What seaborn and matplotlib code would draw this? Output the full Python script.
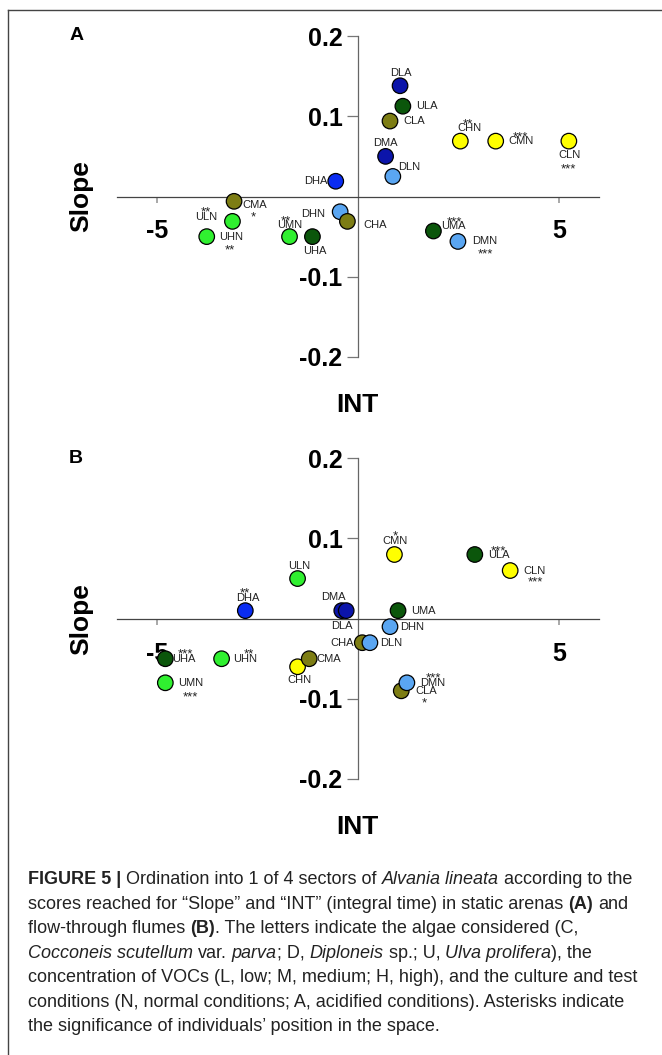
import numpy as np
import pandas as pd
import seaborn as sns
import matplotlib.pyplot as plt
import matplotlib.transforms as mtransforms
from matplotlib.lines import Line2D
from matplotlib import font_manager

plt.rcParams['axes.unicode_minus'] = False
plt.rcParams['font.family'] = ['Liberation Sans', 'DejaVu Sans']

# ---- data: panel A (static arenas) ----
a_labels = ['DLA', 'ULA', 'CLA', 'DMA', 'DLN', 'DHA', 'CHN', 'CMN', 'CLN',
            'UMA', 'DMN', 'DHN', 'CHA', 'UHA', 'UMN', 'ULN', 'UHN', 'CMA']
a_int = [1.05, 1.12, 0.80, 0.69, 0.87, -0.55, 2.55, 3.43, 5.25,
         1.88, 2.49, -0.44, -0.26, -1.13, -1.70, -3.76, -3.12, -3.08]
a_slope = [0.138, 0.1125, 0.094, 0.050, 0.025, 0.019, 0.069, 0.069, 0.069,
           -0.043, -0.056, -0.019, -0.031, -0.050, -0.050, -0.050, -0.031, -0.006]
a_stars = ['', '', '', '', '', '', '**', '***', '***',
           '***', '***', '', '', '', '**', '**', '**', '*']

# ---- data: panel B (flow-through flumes) ----
b_labels = ['ULN', 'DHA', 'DMA', 'DLA', 'UHA', 'UHN', 'UMN', 'CHN', 'CMA',
            'CHA', 'DLN', 'DHN', 'UMA', 'CMN', 'ULA', 'CLN', 'CLA', 'DMN']
b_int = [-1.50, -2.80, -0.40, -0.29, -4.79, -3.39, -4.79, -1.50, -1.21,
         0.11, 0.30, 0.80, 1.00, 0.91, 2.91, 3.79, 1.08, 1.22]
b_slope = [0.050, 0.010, 0.010, 0.010, -0.050, -0.050, -0.080, -0.060, -0.050,
           -0.030, -0.030, -0.010, 0.010, 0.080, 0.080, 0.060, -0.090, -0.080]
b_stars = ['', '**', '', '', '***', '**', '***', '', '',
           '', '', '', '', '*', '***', '***', '*', '***']

yticks = [-0.2, -0.1, 0.1, 0.2]
ytick_labels = ['-0.2', '-0.1', '0.1', '0.2']
xticks = [-5, 5]
xtick_labels = ['-5', '5']

palette = {'CA': '#7d7d14', 'CN': '#ffff00', 'DA': '#0b14aa', 'DHA': '#0a2cf2',
           'DN': '#5aa6f2', 'UA': '#0b560b', 'UN': '#30f030'}

# label layout: (dx px, dy px downwards, ha), star offsets (dx, dy)
lab_a = {'DLA': (1, -13, 'center'), 'ULA': (13, 0, 'left'), 'CLA': (13, 0, 'left'),
         'DMA': (0, -13, 'center'), 'DLN': (5, -9, 'left'), 'DHA': (-8, 0, 'right'),
         'CHN': (9, -13, 'center'), 'CMN': (13, 0, 'left'), 'CLN': (1, 14, 'center'),
         'UMA': (8, -5, 'left'), 'DMN': (14, 0, 'left'), 'DHN': (-15, 2, 'right'),
         'CHA': (16, 4, 'left'), 'UHA': (2, 14, 'center'), 'UMN': (0, -12, 'center'),
         'ULN': (-1, -20, 'center'), 'UHN': (-1, 16, 'center'), 'CMA': (8, 4, 'left')}
star_a = {'CHN': (8, -21), 'CMN': (25, -8), 'CLN': (0, 24), 'UMA': (21, -13),
          'DMN': (27, 9), 'UMN': (-4, -19), 'ULN': (-1, -28), 'UHN': (-3, 25),
          'CMA': (19, 12)}
lab_b = {'ULN': (2, -13, 'center'), 'DHA': (2, -13, 'center'), 'DMA': (-8, -14, 'center'),
         'DLA': (-4, 15, 'center'), 'UHA': (7, 0, 'left'), 'UHN': (12, 0, 'left'),
         'UMN': (13, 0, 'left'), 'CHN': (2, 13, 'center'), 'CMA': (7, 0, 'left'),
         'CHA': (-8, 0, 'right'), 'DLN': (10, 0, 'left'), 'DHN': (10, 0, 'left'),
         'UMA': (13, 0, 'left'), 'CMN': (1, -14, 'center'), 'ULA': (13, 0, 'left'),
         'CLN': (13, 0, 'left'), 'CLA': (14, 0, 'left'), 'DMN': (13, 0, 'left')}
star_b = {'DHA': (0, -21), 'UHA': (20, -8), 'UHN': (27, -8), 'UMN': (25, 11),
          'CMN': (1, -22), 'ULA': (24, -7), 'CLN': (25, 8), 'DMN': (27, -8),
          'CLA': (23, 9)}

W, H = 662, 1055
fig = plt.figure(figsize=(W / 100, H / 100), dpi=100)


def group_of(lab):
    if lab == 'DHA':
        return 'DHA'
    return lab[0] + lab[2]


def draw_panel(rect, labels, xs, ys, stars, lab_pos, star_pos, letter, letter_xy):
    ax = fig.add_axes(rect)
    df = pd.DataFrame({'INT': xs, 'Slope': ys, 'lab': labels})
    df['group'] = df['lab'].map(group_of)
    sns.scatterplot(data=df, x='INT', y='Slope', hue='group', palette=palette,
                    s=125, edgecolor='black', linewidth=0.9, legend=False,
                    ax=ax, zorder=3)
    ax.set_xlim(-6, 6)
    ax.set_ylim(-0.2, 0.2)
    for s in ['right', 'top']:
        ax.spines[s].set_visible(False)
    ax.spines['left'].set_position(('data', 0))
    ax.spines['bottom'].set_position(('data', 0))
    ax.spines['left'].set_color('#666666')
    ax.spines['bottom'].set_color('#444444')
    ax.spines['left'].set_linewidth(0.9)
    ax.spines['bottom'].set_linewidth(0.9)
    ax.set_yticks(yticks)
    ax.set_yticklabels(ytick_labels)
    ax.set_xticks(xticks)
    ax.set_xticklabels(xtick_labels)
    ax.tick_params(axis='y', direction='out', length=8, width=0.9, color='#777777',
                   pad=3, labelsize=18)
    ax.tick_params(axis='x', direction='out', length=4.5, width=1.2, color='#999999',
                   pad=12, labelsize=18)
    for t in ax.get_xticklabels() + ax.get_yticklabels():
        t.set_fontweight('bold')
    ax.set_xlabel('INT', fontsize=19, fontweight='bold')
    ax.set_ylabel('Slope', fontsize=19, fontweight='bold')
    ax.xaxis.label.set_va('center')
    ax.yaxis.label.set_va('center')
    ax.xaxis.set_label_coords(0.5, -48 / (rect[3] * H))
    ax.yaxis.set_label_coords(-35 / (rect[2] * W), 0.5)
    for lab, x, y, st in zip(labels, xs, ys, stars):
        dx, dy, ha = lab_pos[lab]
        ax.annotate(lab, (x, y), xytext=(dx, -dy), textcoords='offset pixels',
                    ha=ha, va='center', fontsize=8, color='#222222')
        if st:
            sx, sy = star_pos[lab]
            ax.annotate(st, (x, y), xytext=(sx, -sy - 7), textcoords='offset pixels',
                        ha='center', va='baseline', fontsize=9.5, color='#222222')
    fig.text(letter_xy[0] / W, 1 - letter_xy[1] / H, letter, fontsize=14,
             fontweight='bold', ha='center', va='center')
    return ax


draw_panel([116.7 / W, 698 / H, 482.3 / W, 321 / H], a_labels, a_int, a_slope, a_stars,
           lab_a, star_a, 'A', (77, 36))
draw_panel([116.7 / W, 276 / H, 482.3 / W, 320.7 / H], b_labels, b_int, b_slope, b_stars,
           lab_b, star_b, 'B', (76, 459))

# frame lines
fig.add_artist(Line2D([8 / W, 8 / W], [0, 1 - 10 / H], color='#444444', lw=1,
                      transform=fig.transFigure))
fig.add_artist(Line2D([8 / W, 1], [1 - 10 / H, 1 - 10 / H], color='#444444', lw=1,
                      transform=fig.transFigure))

# ---- caption ----
try:
    font_manager.findfont('Liberation Sans Narrow', fallback_to_default=False)
    cap_family = ['Liberation Sans Narrow', 'DejaVu Sans']
except Exception:
    cap_family = ['Liberation Sans', 'DejaVu Sans']

cap_lines = [
    [("FIGURE 5 | ", 'b'), ("Ordination into 1 of 4 sectors of ", 'r'),
     ("Alvania lineata", 'i'), (" according to the", 'r')],
    [("scores reached for \u201cSlope\u201d and \u201cINT\u201d (integral time) in static arenas ", 'r'),
     ("(A)", 'b'), (" and", 'r')],
    [("flow-through flumes ", 'r'), ("(B)", 'b'),
     (". The letters indicate the algae considered (C,", 'r')],
    [("Cocconeis scutellum", 'i'), (" var. ", 'r'), ("parva", 'i'), ("; D, ", 'r'),
     ("Diploneis", 'i'), (" sp.; U, ", 'r'), ("Ulva prolifera", 'i'), ("), the", 'r')],
    [("concentration of VOCs (L, low; M, medium; H, high), and the culture and test", 'r')],
    [("conditions (N, normal conditions; A, acidified conditions). Asterisks indicate", 'r')],
    [("the significance of individuals\u2019 position in the space.", 'r')],
]
styles = {'r': dict(fontweight='normal', fontstyle='normal'),
          'b': dict(fontweight='bold', fontstyle='normal'),
          'i': dict(fontweight='normal', fontstyle='italic')}
renderer = fig.canvas.get_renderer()
ident = mtransforms.IdentityTransform()


def text_w(s, st, size):
    t = fig.text(0, 0, s, transform=ident, fontsize=size, family=cap_family, **styles[st])
    w = t.get_window_extent(renderer).width
    t.remove()
    return w


def space_w(st, size):
    return text_w('x x', st, size) - text_w('xx', st, size)


ref = text_w(cap_lines[4][0][0], 'r', 10)
cap_size = 10 * 612 / ref
x0 = 28
line_y = [878, 902.5, 927, 951.5, 976, 1000.5, 1025]
for runs, yc in zip(cap_lines, line_y):
    x = x0
    for s, st in runs:
        sw = space_w(st, cap_size)
        lead = len(s) - len(s.lstrip(' '))
        trail = len(s) - len(s.rstrip(' '))
        core = s.strip(' ')
        x += lead * sw
        fig.text(x, H - yc - 0.36 * cap_size * 100 / 72, core, transform=ident,
                 fontsize=cap_size, family=cap_family, color='#222222',
                 va='baseline', ha='left', **styles[st])
        x += text_w(core, st, cap_size) + trail * sw

fig.savefig('out.png', dpi=100)
